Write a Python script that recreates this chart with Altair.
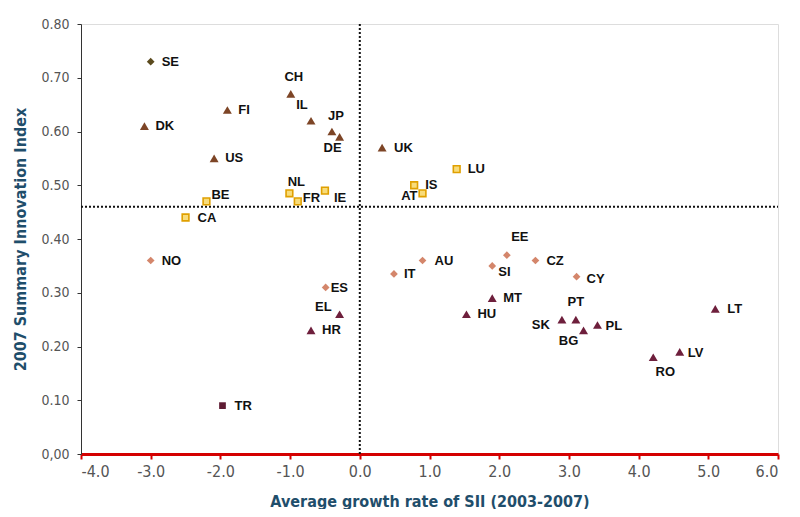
import altair as alt
import pandas as pd

# ---- data ----
countries = ["SE", "CH", "FI", "DK", "IL", "JP", "DE", "US", "UK",
             "NL", "FR", "IE", "BE", "CA", "LU", "IS", "AT",
             "NO", "ES", "IT", "AU", "EE", "SI", "CZ", "CY",
             "EL", "HR", "MT", "HU", "SK", "PT", "BG", "PL", "LT", "LV", "RO",
             "TR"]
growth = [-3.00, -0.99, -1.90, -3.09, -0.70, -0.40, -0.29, -2.09, 0.32,
          -1.01, -0.89, -0.50, -2.20, -2.50, 1.39, 0.78, 0.90,
          -3.00, -0.49, 0.49, 0.90, 2.11, 1.90, 2.52, 3.11,
          -0.29, -0.70, 1.90, 1.53, 2.90, 3.10, 3.21, 3.41, 5.10, 4.59, 4.21,
          -1.97]
sii = [0.73, 0.67, 0.64, 0.61, 0.62, 0.60, 0.59, 0.55, 0.57,
       0.485, 0.47, 0.49, 0.47, 0.44, 0.53, 0.50, 0.485,
       0.36, 0.31, 0.335, 0.36, 0.37, 0.35, 0.36, 0.33,
       0.26, 0.23, 0.29, 0.26, 0.25, 0.25, 0.23, 0.24, 0.27, 0.19, 0.18,
       0.09]
group = (["g1"] + ["g2"] * 8 + ["g3"] * 8 + ["g4"] * 8 + ["g5"] * 11 + ["g6"])

eu_avg_sii = 0.46
eu_avg_growth = 0.0
x_ticks = [-4, -3, -2, -1, 0, 1, 2, 3, 4, 5, 6]
y_ticks = [0, 0.1, 0.2, 0.3, 0.4, 0.5, 0.6, 0.7, 0.8]

# ---- label placement (pixel offsets & alignment, styling only) ----
label_style = {
    "SE": (11, 0, "left"), "CH": (3, -17, "center"), "FI": (11, 0, "left"),
    "DK": (11, 0, "left"), "IL": (-9, -16, "center"), "JP": (4, -16, "center"),
    "DE": (-7, 11, "center"), "US": (11, 0, "left"), "UK": (12, 0, "left"),
    "NL": (7, -11, "center"), "FR": (5, -3, "left"), "IE": (9, 7, "left"),
    "BE": (5, -6, "left"), "CA": (12, 0, "left"), "LU": (11, 0, "left"),
    "IS": (11, 0, "left"), "AT": (-5, 3, "right"), "NO": (11, 0, "left"),
    "ES": (5, 1, "left"), "IT": (10, 0, "left"), "AU": (12, 0, "left"),
    "EE": (13, -18, "center"), "SI": (6, 6, "left"), "CZ": (11, 0, "left"),
    "CY": (10, 2, "left"), "EL": (-8, -7, "right"), "HR": (11, 0, "left"),
    "MT": (11, 0, "left"), "HU": (11, 0, "left"), "SK": (-12, 5, "right"),
    "PT": (0, -18, "center"), "BG": (-15, 11, "center"), "PL": (8, 1, "left"),
    "LT": (12, 0, "left"), "LV": (8, 1, "left"), "RO": (12, 15, "center"),
    "TR": (12, 0, "left"),
}

W, H = 697, 430
XMIN, XMAX, YMIN, YMAX = -4, 6, 0, 0.8
px_x = W / (XMAX - XMIN)
px_y = H / (YMAX - YMIN)

df = pd.DataFrame({"country": countries, "growth": growth, "sii": sii, "group": group})
df["dx"] = [label_style[c][0] for c in countries]
df["dy"] = [label_style[c][1] for c in countries]
df["align"] = [label_style[c][2] for c in countries]

xscale = alt.Scale(domain=[XMIN, XMAX], nice=False, zero=False)
yscale = alt.Scale(domain=[YMIN, YMAX], nice=False, zero=False)

tick_font = "DejaVu Sans Condensed, Liberation Sans Narrow, sans-serif"
title_font = "DejaVu Sans Condensed, Liberation Sans Narrow, sans-serif"
title_color = "#1f4e6b"

x_enc = alt.X("growth:Q", scale=xscale, axis=alt.Axis(
    title="Average growth rate of SII (2003-2007)", values=x_ticks,
    labelExpr="replace(format(datum.value, '.1f'), '\u2212', '-')",
    grid=False, domainColor="#d40000", domainWidth=3, tickColor="#d40000",
    tickWidth=2, tickSize=5, labelColor="#555555", labelFont=tick_font,
    labelFontSize=16, labelPadding=4, titleFont=title_font, titleFontSize=16,
    titleFontWeight="bold", titleColor=title_color, titlePadding=14))
y_enc = alt.Y("sii:Q", scale=yscale, axis=alt.Axis(
    title="2007 Summary Innovation Index", values=y_ticks,
    labelExpr="datum.value == 0 ? '0,00' : format(datum.value, '.2f')",
    grid=False, domainColor="#333333", domainWidth=1, tickColor="#333333",
    tickSize=4, labelColor="#555555", labelFont=tick_font, labelFontSize=14,
    labelPadding=8, titleFont=title_font, titleFontSize=16,
    titleFontWeight="bold", titleColor=title_color, titlePadding=12))

base = alt.Chart(df)

ref_df_v = pd.DataFrame({"x": [eu_avg_growth], "y": [YMIN], "y2": [YMAX]})
ref_df_h = pd.DataFrame({"x": [XMIN], "x2": [XMAX], "y": [eu_avg_sii]})

vrule = alt.Chart(ref_df_v).mark_rule(color="#111111", strokeDash=[2, 2], strokeWidth=2).encode(
    x=alt.X("x:Q", scale=xscale), y=alt.Y("y:Q", scale=yscale), y2="y2:Q")
hrule = alt.Chart(ref_df_h).mark_rule(color="#111111", strokeDash=[2, 2], strokeWidth=2).encode(
    x=alt.X("x:Q", scale=xscale), x2="x2:Q", y=alt.Y("y:Q", scale=yscale))

styles = {
    "g1": dict(shape="diamond", filled=True, color="#5b4a1e", size=60),
    "g2": dict(shape="triangle-up", filled=True, color="#7d4526", size=80),
    "g3": dict(shape="square", filled=True, fill="#f8dc7a", stroke="#e0a000", strokeWidth=1.6, size=45),
    "g4": dict(shape="diamond", filled=True, color="#d4866b", size=60),
    "g5": dict(shape="triangle-up", filled=True, color="#6e1f3c", size=80),
    "g6": dict(shape="square", filled=True, color="#5e1b33", size=45),
}

point_layers = []
for g, st in styles.items():
    point_layers.append(
        base.transform_filter(alt.datum.group == g)
        .mark_point(opacity=1, **st)
        .encode(x=x_enc, y=y_enc)
    )

text_layers = []
for al in ["left", "center", "right"]:
    text_layers.append(
        base.transform_filter(alt.datum.align == al)
        .transform_calculate(lx=f"datum.growth + datum.dx / {px_x}",
                             ly=f"datum.sii - datum.dy / {px_y}")
        .mark_text(align=al, baseline="middle", font="Liberation Sans, Arial, sans-serif",
                   fontWeight="bold", fontSize=13, color="#111111")
        .encode(x=alt.X("lx:Q", scale=xscale), y=alt.Y("ly:Q", scale=yscale), text="country:N")
    )

chart = alt.layer(vrule, hrule, *point_layers, *text_layers).properties(
    width=W, height=H,
    autosize=alt.AutoSizeParams(type="none"),
    padding={"left": 73, "top": 16, "right": 14, "bottom": 55},
).configure_view(stroke=None).configure(background="white")

chart.save("out.html", embed_options={"renderer": "svg", "actions": False})
